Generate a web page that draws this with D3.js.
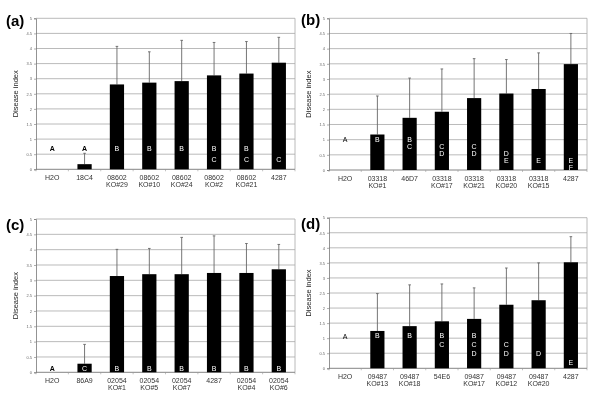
<!DOCTYPE html>
<html>
<head>
<meta charset="utf-8">
<script src="https://cdn.jsdelivr.net/npm/d3@7"></script>
<style>
  body { margin: 0; background: #fff; }
  svg { will-change: transform; }
  text { font-family: Arial, "Liberation Sans", Helvetica, sans-serif; }
</style>
</head>
<body>
<svg id="chart" width="600" height="409"></svg>
<script>
// panel (a)
const catsA = ["H2O", "18C4", "08602\nKO#29", "08602\nKO#10", "08602\nKO#24", "08602\nKO#2", "08602\nKO#21", "4287"];
const meanA = [0, 0.17, 2.81, 2.87, 2.92, 3.11, 3.17, 3.53];
const sdA = [0, 0.36, 1.26, 1.02, 1.35, 1.09, 1.06, 0.84];
const lettersA = ["A", "A", "B", "B", "B", "BC", "BC", "C"];

// panel (b)
const catsB = ["H2O", "03318\nKO#1", "46D7", "03318\nKO#17", "03318\nKO#21", "03318\nKO#20", "03318\nKO#15", "4287"];
const meanB = [0, 1.17, 1.72, 1.92, 2.37, 2.52, 2.67, 3.49];
const sdB = [0, 1.27, 1.31, 1.41, 1.3, 1.12, 1.19, 1.01];
const lettersB = ["A", "B", "BC", "CD", "CD", "DE", "E", "EF"];

// panel (c)
const catsC = ["H2O", "86A9", "02054\nKO#1", "02054\nKO#5", "02054\nKO#7", "4287", "02054\nKO#4", "02054\nKO#6"];
const meanC = [0, 0.28, 3.14, 3.2, 3.2, 3.24, 3.24, 3.36];
const sdC = [0, 0.63, 0.87, 0.84, 1.2, 1.21, 0.96, 0.81];
const lettersC = ["A", "C", "B", "B", "B", "B", "B", "B"];

// panel (d)
const catsD = ["H2O", "09487\nKO#13", "09487\nKO#18", "54E6", "09487\nKO#17", "09487\nKO#12", "09487\nKO#20", "4287"];
const meanD = [0, 1.24, 1.4, 1.56, 1.64, 2.11, 2.26, 3.52];
const sdD = [0, 1.24, 1.37, 1.24, 1.03, 1.22, 1.24, 0.85];
const lettersD = ["A", "B", "B", "BC", "BCD", "CD", "D", "E"];

const yTicks = [0, 0.5, 1, 1.5, 2, 2.5, 3, 3.5, 4, 4.5, 5];
const yTickLabels = ["0", "0.5", "1", "1.5", "2", "2.5", "3", "3.5", "4", "4.5", "5"];

// letter heights (in data units) per panel
const panels = [
  { tag: "(a)", cats: catsA, mean: meanA, sd: sdA, letters: lettersA,
    box: { x0: 36, x1: 295, y0: 18.3, y1: 169.3 }, lx: 6, ly: 26,
    slot: { A: 0.7, B: 0.7, C: 0.33 }, boldA: true },
  { tag: "(b)", cats: catsB, mean: meanB, sd: sdB, letters: lettersB,
    box: { x0: 329, x1: 587, y0: 18.3, y1: 170 }, lx: 301, ly: 25,
    slot: { A: 1.0, B: 1.0, C: 0.76, D: 0.53, E: 0.3, F: 0.08 }, boldA: false },
  { tag: "(c)", cats: catsC, mean: meanC, sd: sdC, letters: lettersC,
    box: { x0: 36, x1: 295, y0: 219, y1: 372.3 }, lx: 6, ly: 230,
    slot: { A: 0.14, B: 0.14, C: 0.14 }, boldA: true },
  { tag: "(d)", cats: catsD, mean: meanD, sd: sdD, letters: lettersD,
    box: { x0: 329, x1: 587, y0: 217.7, y1: 368.3 }, lx: 301, ly: 229,
    slot: { A: 1.05, B: 1.08, C: 0.78, D: 0.5, E: 0.2 }, boldA: false }
];

const svg = d3.select("#chart");

panels.forEach(p => {
  const g = svg.append("g");
  const b = p.box;

  const x = d3.scaleBand()
    .domain(p.cats)
    .range([b.x0, b.x1])
    .paddingInner(0.56)
    .paddingOuter(0.28);

  const y = d3.scaleLinear()
    .domain([0, 5])
    .range([b.y1, b.y0]);

  // grid
  g.append("g")
    .selectAll("line")
    .data(yTicks.slice(1))
    .enter()
    .append("line")
    .attr("x1", b.x0).attr("x2", b.x1)
    .attr("y1", d => y(d)).attr("y2", d => y(d))
    .attr("stroke", "#a8a8a8")
    .attr("stroke-width", 0.8);

  // right border
  g.append("line")
    .attr("x1", b.x1).attr("x2", b.x1)
    .attr("y1", b.y0).attr("y2", b.y1)
    .attr("stroke", "#a8a8a8")
    .attr("stroke-width", 0.8);

  // left axis
  const yAxis = d3.axisLeft(y)
    .tickValues(yTicks)
    .tickFormat((d, i) => yTickLabels[i])
    .tickSize(2)
    .tickPadding(2);
  const ya = g.append("g")
    .attr("transform", `translate(${b.x0},0)`)
    .call(yAxis);
  ya.select(".domain").attr("stroke", "#777").attr("stroke-width", 0.8);
  ya.selectAll(".tick line").attr("stroke", "#777").attr("stroke-width", 0.6);
  ya.selectAll(".tick text")
    .attr("font-size", 4)
    .attr("fill", "#666");

  // bottom axis, ticks between categories
  const bounds = d3.range(p.cats.length + 1).map(i => b.x0 + (b.x1 - b.x0) * i / p.cats.length);
  g.append("line")
    .attr("x1", b.x0).attr("x2", b.x1)
    .attr("y1", b.y1).attr("y2", b.y1)
    .attr("stroke", "#777")
    .attr("stroke-width", 0.9);
  g.append("g")
    .selectAll("line")
    .data(bounds)
    .enter()
    .append("line")
    .attr("x1", d => d).attr("x2", d => d)
    .attr("y1", b.y1).attr("y2", b.y1 + 2)
    .attr("stroke", "#999")
    .attr("stroke-width", 0.6);

  // category labels
  p.cats.forEach(c => {
    const t = g.append("text")
      .attr("x", x(c) + x.bandwidth() / 2)
      .attr("y", b.y1 + 10.5)
      .attr("text-anchor", "middle")
      .attr("font-size", 7)
      .attr("fill", "#333");
    c.split("\n").forEach((s, j) => {
      t.append("tspan")
        .attr("x", x(c) + x.bandwidth() / 2)
        .attr("dy", j === 0 ? 0 : 7.5)
        .text(s);
    });
  });

  // error bars
  const err = g.append("g");
  p.cats.forEach((c, i) => {
    if (p.sd[i] <= 0) return;
    const cx = x(c) + x.bandwidth() / 2;
    err.append("line")
      .attr("x1", cx).attr("x2", cx)
      .attr("y1", y(p.mean[i])).attr("y2", y(p.mean[i] + p.sd[i]))
      .attr("stroke", "#666")
      .attr("stroke-width", 0.9);
    err.append("line")
      .attr("x1", cx - 1.3).attr("x2", cx + 1.3)
      .attr("y1", y(p.mean[i] + p.sd[i])).attr("y2", y(p.mean[i] + p.sd[i]))
      .attr("stroke", "#666")
      .attr("stroke-width", 0.9);
  });

  // bars
  g.append("g")
    .selectAll("rect")
    .data(p.mean)
    .enter()
    .append("rect")
    .attr("x", (d, i) => x(p.cats[i]))
    .attr("y", d => y(d))
    .attr("width", x.bandwidth())
    .attr("height", d => b.y1 - y(d))
    .attr("fill", "#000");

  // significance letters
  p.cats.forEach((c, i) => {
    const cx = x(c) + x.bandwidth() / 2;
    p.letters[i].split("").forEach(L => {
      const v = p.slot[L];
      const inside = v < p.mean[i];
      g.append("text")
        .attr("x", cx)
        .attr("y", y(v) + 2.5)
        .attr("text-anchor", "middle")
        .attr("font-size", 7)
        .attr("font-weight", (!inside && p.boldA) ? "bold" : "normal")
        .attr("fill", inside ? "#fff" : "#000")
        .text(L);
    });
  });

  // axis title
  g.append("text")
    .attr("transform", `translate(${b.x0 - 18},${(b.y0 + b.y1) / 2}) rotate(-90)`)
    .attr("text-anchor", "middle")
    .attr("font-size", 7.5)
    .attr("fill", "#222")
    .text("Disease index");

  // panel tag
  g.append("text")
    .attr("x", p.lx)
    .attr("y", p.ly)
    .attr("font-size", 15)
    .attr("font-weight", "bold")
    .attr("fill", "#000")
    .text(p.tag);
});
</script>
</body>
</html>
